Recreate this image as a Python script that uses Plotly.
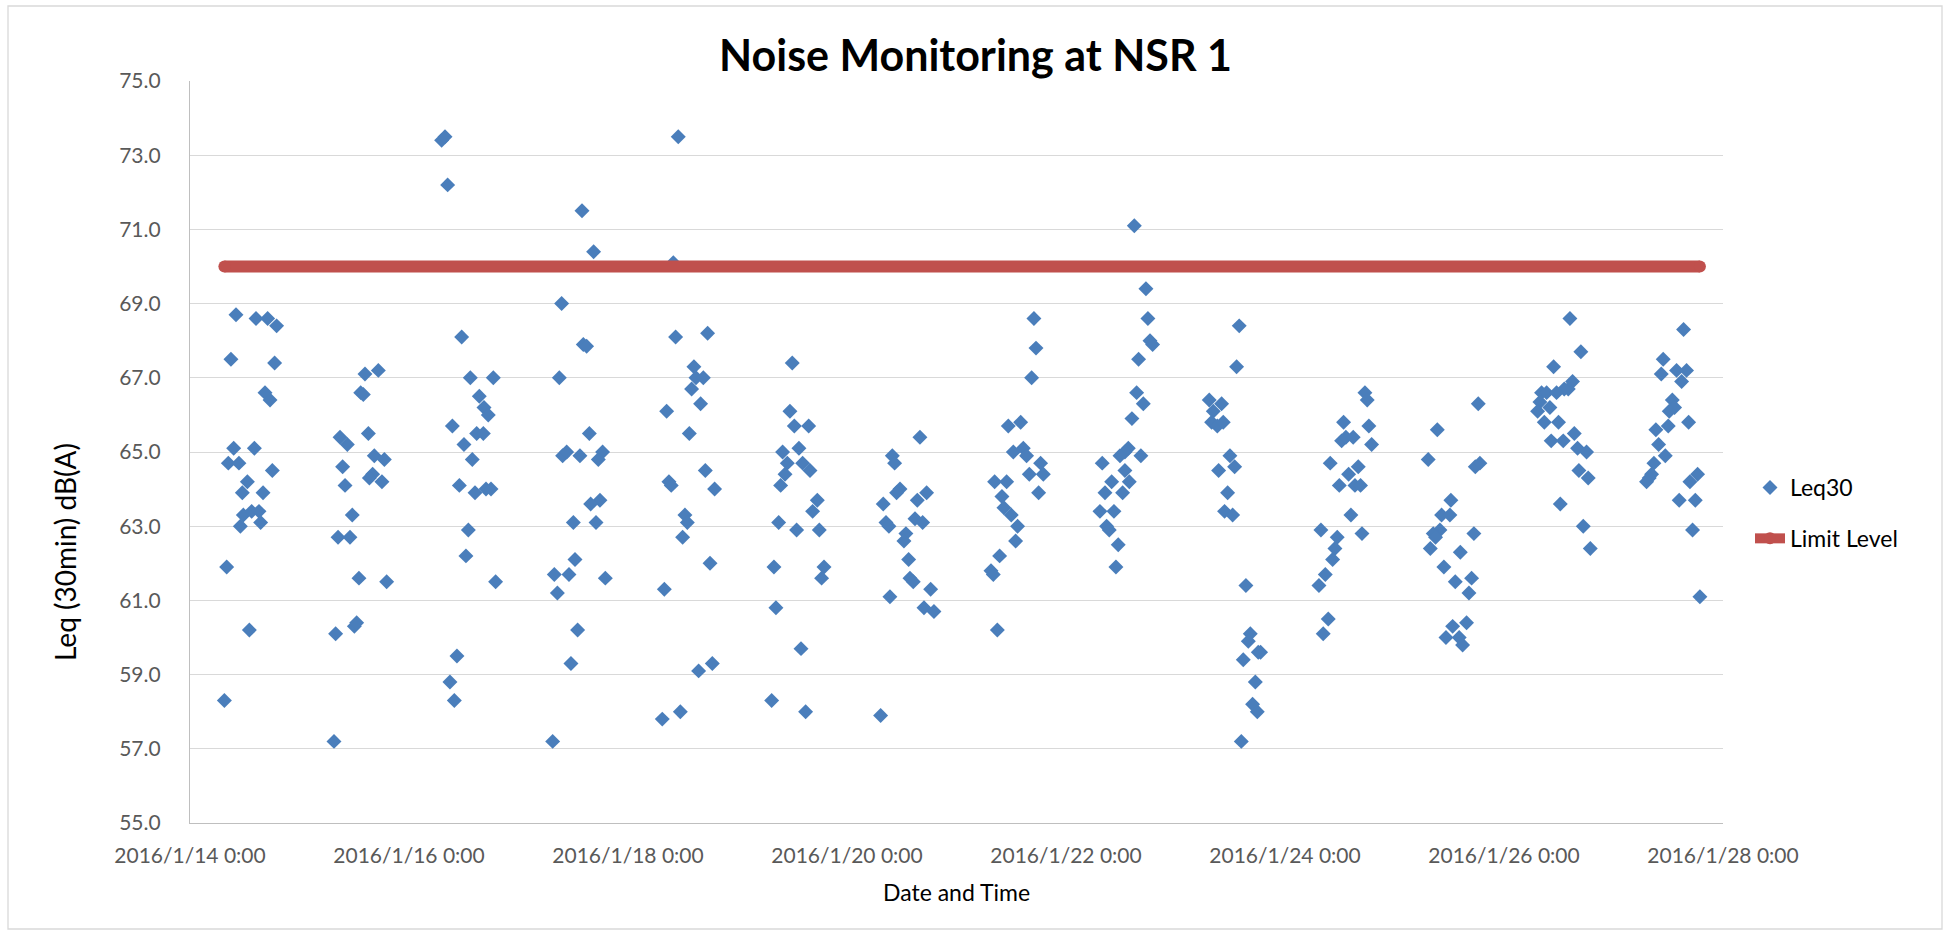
import pandas as pd
import plotly.graph_objects as go

start_date = "2016-01-14"
limit_level = 70.0

# fraction of each day (time of day) and Leq30 values
d14_t = [0.420,0.603,0.709,0.791,0.374,0.773,0.685,0.731,0.399,0.588,0.350,0.447,0.752,0.524,0.478,0.667,0.487,0.563,0.630,0.460,0.645,0.335,0.542,0.314]
d14_v = [68.7,68.6,68.6,68.4,67.5,67.4,66.6,66.4,65.1,65.1,64.7,64.7,64.5,64.2,63.9,63.9,63.3,63.4,63.4,63.0,63.1,61.9,60.2,58.3]
d15_t = [0.598,0.720,0.559,0.583,0.629,0.370,0.437,0.683,0.775,0.394,0.668,0.638,0.753,0.416,0.482,0.352,0.461,0.543,0.796,0.330,0.501,0.522,0.315]
d15_v = [67.1,67.2,66.6,66.55,65.5,65.4,65.2,64.9,64.8,64.6,64.4,64.3,64.2,64.1,63.3,62.7,62.7,61.6,61.5,60.1,60.3,60.4,57.2]
d16_t = [0.298,0.329,0.353,0.481,0.560,0.770,0.642,0.685,0.724,0.396,0.618,0.679,0.502,0.578,0.460,0.603,0.703,0.749,0.542,0.520,0.791,0.438,0.374,0.414]
d16_v = [73.4,73.5,72.2,68.1,67.0,67.0,66.5,66.2,66.0,65.7,65.5,65.5,65.2,64.8,64.1,63.9,64.0,64.0,62.9,62.2,61.5,59.5,58.8,58.3]
d17_t = [0.580,0.686,0.394,0.592,0.622,0.373,0.647,0.403,0.440,0.561,0.768,0.729,0.744,0.659,0.501,0.708,0.516,0.327,0.461,0.793,0.355,0.540,0.479,0.312]
d17_v = [71.5,70.4,69.0,67.9,67.85,67.0,65.5,64.9,65.0,64.9,65.0,64.8,63.7,63.6,63.1,63.1,62.1,61.7,61.7,61.6,61.2,60.2,59.3,57.2]
d18_t = [0.459,0.414,0.435,0.727,0.602,0.621,0.688,0.581,0.663,0.353,0.560,0.706,0.374,0.395,0.791,0.520,0.542,0.499,0.749,0.332,0.770,0.645,0.478,0.313]
d18_v = [73.5,70.1,68.1,68.2,67.3,67.0,67.0,66.7,66.3,66.1,65.5,64.5,64.2,64.1,64.0,63.3,63.1,62.7,62.0,61.3,59.3,59.1,58.0,57.8]
d19_t = [0.500,0.479,0.519,0.650,0.561,0.412,0.455,0.595,0.662,0.434,0.394,0.729,0.686,0.376,0.540,0.747,0.333,0.790,0.768,0.351,0.580,0.312,0.622]
d19_v = [67.4,66.1,65.7,65.7,65.1,65.0,64.7,64.7,64.5,64.4,64.1,63.7,63.4,63.1,62.9,62.9,61.9,61.9,61.6,60.8,59.7,58.3,58.0]
d20_t = [0.666,0.414,0.435,0.484,0.453,0.727,0.642,0.331,0.356,0.383,0.621,0.691,0.538,0.520,0.563,0.575,0.605,0.764,0.392,0.703,0.794,0.307]
d20_v = [65.4,64.9,64.7,64.0,63.9,63.9,63.7,63.6,63.1,63.0,63.2,63.1,62.8,62.6,62.1,61.6,61.5,61.3,61.1,60.8,60.7,57.9]
d21_t = [0.707,0.726,0.686,0.473,0.586,0.519,0.610,0.640,0.768,0.665,0.793,0.750,0.348,0.458,0.415,0.433,0.500,0.558,0.540,0.394,0.315,0.336,0.373]
d21_v = [68.6,67.8,67.0,65.7,65.8,65.0,65.1,64.9,64.7,64.4,64.4,63.9,64.2,64.2,63.8,63.5,63.3,63.0,62.6,62.2,61.8,61.7,60.2]
d22_t = [0.624,0.730,0.748,0.767,0.791,0.663,0.645,0.706,0.602,0.569,0.538,0.493,0.684,0.331,0.538,0.578,0.417,0.356,0.517,0.310,0.438,0.371,0.395,0.477,0.456]
d22_v = [71.1,69.4,68.6,68.0,67.9,67.5,66.6,66.3,65.9,65.1,65.0,64.9,64.9,64.7,64.5,64.2,64.2,63.9,63.9,63.4,63.4,63.0,62.9,62.5,61.9]
d23_t = [0.582,0.558,0.308,0.421,0.345,0.330,0.382,0.436,0.497,0.540,0.394,0.476,0.448,0.522,0.643,0.683,0.665,0.777,0.756,0.619,0.729,0.704,0.747,0.601]
d23_v = [68.4,67.3,66.4,66.3,66.1,65.8,65.7,65.8,64.9,64.6,64.5,63.9,63.4,63.3,61.4,60.1,59.9,59.6,59.6,59.4,58.8,58.2,58.0,57.2]
d24_t = [0.730,0.751,0.535,0.766,0.517,0.556,0.623,0.791,0.413,0.669,0.581,0.496,0.639,0.690,0.602,0.328,0.703,0.477,0.456,0.435,0.368,0.310,0.395,0.349]
d24_v = [66.6,66.4,65.8,65.7,65.3,65.4,65.4,65.2,64.7,64.6,64.4,64.1,64.1,64.1,63.3,62.9,62.8,62.7,62.4,62.1,61.7,61.4,60.5,60.1]
d25_t = [0.765,0.391,0.308,0.738,0.780,0.515,0.430,0.506,0.415,0.354,0.375,0.725,0.327,0.601,0.451,0.704,0.555,0.680,0.531,0.658,0.470,0.591,0.622]
d25_v = [66.3,65.6,64.8,64.6,64.7,63.7,63.3,63.3,62.9,62.8,62.7,62.8,62.4,62.3,61.9,61.6,61.5,61.2,60.3,60.4,60.0,60.0,59.8]
d26_t = [0.602,0.702,0.453,0.626,0.587,0.550,0.343,0.389,0.480,0.328,0.419,0.307,0.368,0.498,0.642,0.431,0.541,0.672,0.754,0.684,0.769,0.514,0.724,0.788]
d26_v = [68.6,67.7,67.3,66.9,66.7,66.7,66.6,66.6,66.6,66.35,66.2,66.1,65.8,65.8,65.5,65.3,65.3,65.1,65.0,64.5,64.3,63.6,63.0,62.4]
d27_t = [0.640,0.454,0.436,0.576,0.667,0.622,0.537,0.558,0.509,0.686,0.500,0.387,0.412,0.473,0.369,0.348,0.326,0.302,0.768,0.698,0.600,0.747,0.722,0.789]
d27_v = [68.3,67.5,67.1,67.2,67.2,66.9,66.4,66.2,66.1,65.8,65.7,65.6,65.2,64.9,64.7,64.4,64.3,64.2,64.4,64.2,63.7,63.7,62.9,61.1]

tick_dates = ["2016-01-14", "2016-01-16", "2016-01-18", "2016-01-20",
              "2016-01-22", "2016-01-24", "2016-01-26", "2016-01-28"]
tick_labels = ["2016/1/14 0:00", "2016/1/16 0:00", "2016/1/18 0:00", "2016/1/20 0:00",
               "2016/1/22 0:00", "2016/1/24 0:00", "2016/1/26 0:00", "2016/1/28 0:00"]

day_series = [(d14_t, d14_v), (d15_t, d15_v), (d16_t, d16_v), (d17_t, d17_v),
              (d18_t, d18_v), (d19_t, d19_v), (d20_t, d20_v), (d21_t, d21_v),
              (d22_t, d22_v), (d23_t, d23_v), (d24_t, d24_v), (d25_t, d25_v),
              (d26_t, d26_v), (d27_t, d27_v)]

t0 = pd.Timestamp(start_date)
times, values = [], []
for k, (ts, vs) in enumerate(day_series):
    assert len(ts) == len(vs), (k, len(ts), len(vs))
    for f, v in zip(ts, vs):
        times.append(t0 + pd.Timedelta(days=k + f))
        values.append(v)

limit_x = [min(times), max(times)]
limit_y = [limit_level, limit_level]

FONT = "Lato"
TICK_COLOR = "#595959"

# pixel layout helpers (plot area)
W, H = 1951, 931
L, R, T, B = 190, 228, 81, 108
PW, PH = W - L - R, H - T - B
def px(x):
    return (x - L) / PW
def py(y):
    return (H - B - y) / PH

fig = go.Figure()
fig.add_trace(go.Scatter(
    x=times, y=values, mode="markers", name="Leq30", legendgroup="a",
    marker=dict(symbol="diamond", size=11.5, color="#4A7EBB", line=dict(width=0)),
))
fig.add_trace(go.Scatter(
    x=limit_x, y=limit_y, mode="lines+markers", name="Limit Level", legendgroup="b",
    line=dict(color="#C0504D", width=12),
    marker=dict(symbol="circle", size=12, color="#C0504D", line=dict(width=0)),
))

fig.update_layout(
    width=W, height=H,
    margin=dict(l=L, r=R, t=T, b=B, pad=0),
    paper_bgcolor="white", plot_bgcolor="white",
    font=dict(family=FONT, color=TICK_COLOR),
    title=dict(text="<b>Noise Monitoring at NSR 1</b>", x=0.5, xref="container",
               xanchor="center", y=1 - 56 / H, yref="container", yanchor="middle",
               font=dict(family=FONT, size=43, color="black")),
    xaxis=dict(type="date", range=[tick_dates[0], tick_dates[-1]],
               tickmode="array", tickvals=tick_dates, ticktext=tick_labels,
               showgrid=False, zeroline=False, showline=True,
               linecolor="#BFBFBF", linewidth=1.3, ticks="",
               ticklabelstandoff=14,
               tickfont=dict(family=FONT, size=21, color=TICK_COLOR)),
    yaxis=dict(range=[55, 75], dtick=2, tick0=55, tickformat=".1f",
               showgrid=True, gridcolor="#D9D9D9", gridwidth=1.3,
               zeroline=False, showline=True, linecolor="#BFBFBF", linewidth=1.3,
               ticks="", ticklabelstandoff=24,
               tickfont=dict(family=FONT, size=21, color=TICK_COLOR)),
    legend=dict(x=px(1750), xanchor="left", y=py(466), yanchor="top",
                font=dict(family=FONT, size=23, color="black"),
                tracegroupgap=18, bgcolor="rgba(0,0,0,0)", borderwidth=0),
    showlegend=True,
)

fig.add_annotation(text="Leq (30min) dB(A)", textangle=-90, x=px(65), y=py(552),
                   xref="paper", yref="paper", showarrow=False,
                   xanchor="center", yanchor="middle",
                   font=dict(family=FONT, size=28, color="black"))
fig.add_annotation(text="Date and Time", x=0.5, y=py(892), xref="paper", yref="paper",
                   showarrow=False, xanchor="center", yanchor="middle",
                   font=dict(family=FONT, size=23, color="black"))

fig.add_shape(type="rect", xref="paper", yref="paper",
              x0=px(8), x1=px(1942), y0=py(929), y1=py(6),
              line=dict(color="#D9D9D9", width=1.3), fillcolor="rgba(0,0,0,0)",
              layer="below")

fig.write_html("out.html", config={"displayModeBar": False},
               post_script="document.body.style.margin='0';document.body.style.overflow='hidden';")
